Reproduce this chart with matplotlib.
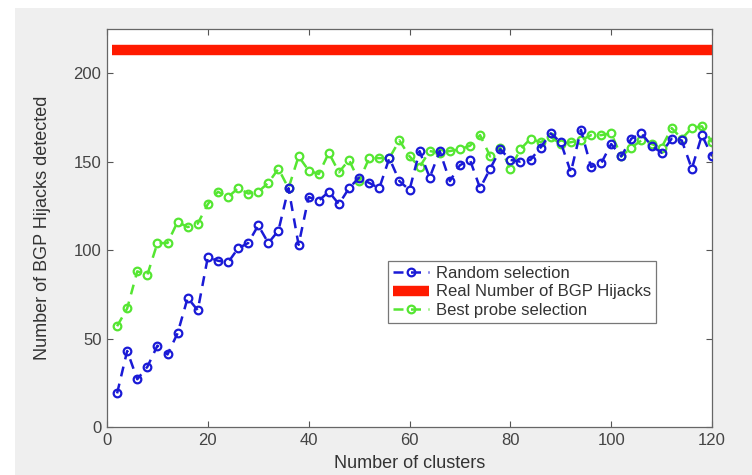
import matplotlib
matplotlib.use("Agg")
import matplotlib.pyplot as plt
from matplotlib.patches import Rectangle

plt.rcParams['font.family'] = ['Liberation Sans', 'DejaVu Sans']

clusters = list(range(2, 121, 2))
random_sel = [19, 43, 27, 34, 46, 41, 53, 73, 66, 96,
              94, 93, 101, 104, 114, 104, 111, 135, 103, 130,
              128, 133, 126, 135, 141, 138, 135, 152, 139, 134,
              156, 141, 156, 139, 148, 151, 135, 146, 157, 151,
              150, 151, 158, 166, 161, 144, 168, 147, 149, 160,
              153, 163, 166, 159, 155, 163, 162, 146, 165, 153]
best_sel = [57, 67, 88, 86, 104, 104, 116, 113, 115, 126,
            133, 130, 135, 132, 133, 138, 146, 135, 153, 145,
            143, 155, 144, 151, 139, 152, 152, 152, 162, 153,
            147, 156, 155, 156, 157, 159, 165, 153, 158, 146,
            157, 163, 161, 164, 160, 161, 162, 165, 165, 166,
            153, 158, 162, 160, 158, 169, 163, 169, 170, 161]
real_hijacks = 213
real_x = [1, 120]

fig = plt.figure(figsize=(7.52, 4.75), dpi=100, facecolor='white')
fig.patches.append(Rectangle((15/752, 0), 1 - 15/752, 1 - 8/475,
                             transform=fig.transFigure, facecolor='#efefef',
                             edgecolor='none', zorder=-10))
ax = fig.add_axes([107/752, 1 - 427/475, 605/752, 398/475])
ax.set_facecolor('white')

ax.plot(clusters, random_sel, linestyle=(0, (4, 3)), color='#1a1ad6', linewidth=1.8,
        marker='o', markersize=5.5, markerfacecolor='none', markeredgewidth=1.6,
        label='Random selection', zorder=3)
ax.plot(real_x, [real_hijacks, real_hijacks], color='#ff1a00', linewidth=7.5,
        solid_capstyle='butt', label='Real Number of BGP Hijacks', zorder=2)
ax.plot(clusters, best_sel, linestyle=(0, (4, 3)), color='#55e632', linewidth=1.8,
        marker='o', markersize=5.5, markerfacecolor='none', markeredgewidth=1.6,
        label='Best probe selection', zorder=2.5)

ax.set_xlim(0, 120)
ax.set_ylim(0, 225)
ax.set_xticks(range(0, 121, 20))
ax.set_yticks(range(0, 201, 50))
ax.tick_params(direction='in', top=True, right=True, length=4, width=0.8,
               colors='#555555', labelsize=12, labelcolor='#444444', pad=4)
for s in ax.spines.values():
    s.set_color('#666666')
    s.set_linewidth(0.9)

ax.set_xlabel('Number of clusters', fontsize=13, color='#333333', labelpad=5)
ax.set_ylabel('Number of BGP Hijacks detected', fontsize=13, color='#333333', labelpad=16)

leg = ax.legend(loc='lower left', bbox_to_anchor=(0.464, 0.262), fontsize=12,
                frameon=True, fancybox=False, edgecolor='#555555',
                borderpad=0.3, labelspacing=0.2, handlelength=2.2,
                handletextpad=0.4, borderaxespad=0)
leg.get_frame().set_linewidth(0.9)
for t in leg.get_texts():
    t.set_color('#333333')

fig.savefig('out.png', dpi=100, facecolor=fig.get_facecolor())
